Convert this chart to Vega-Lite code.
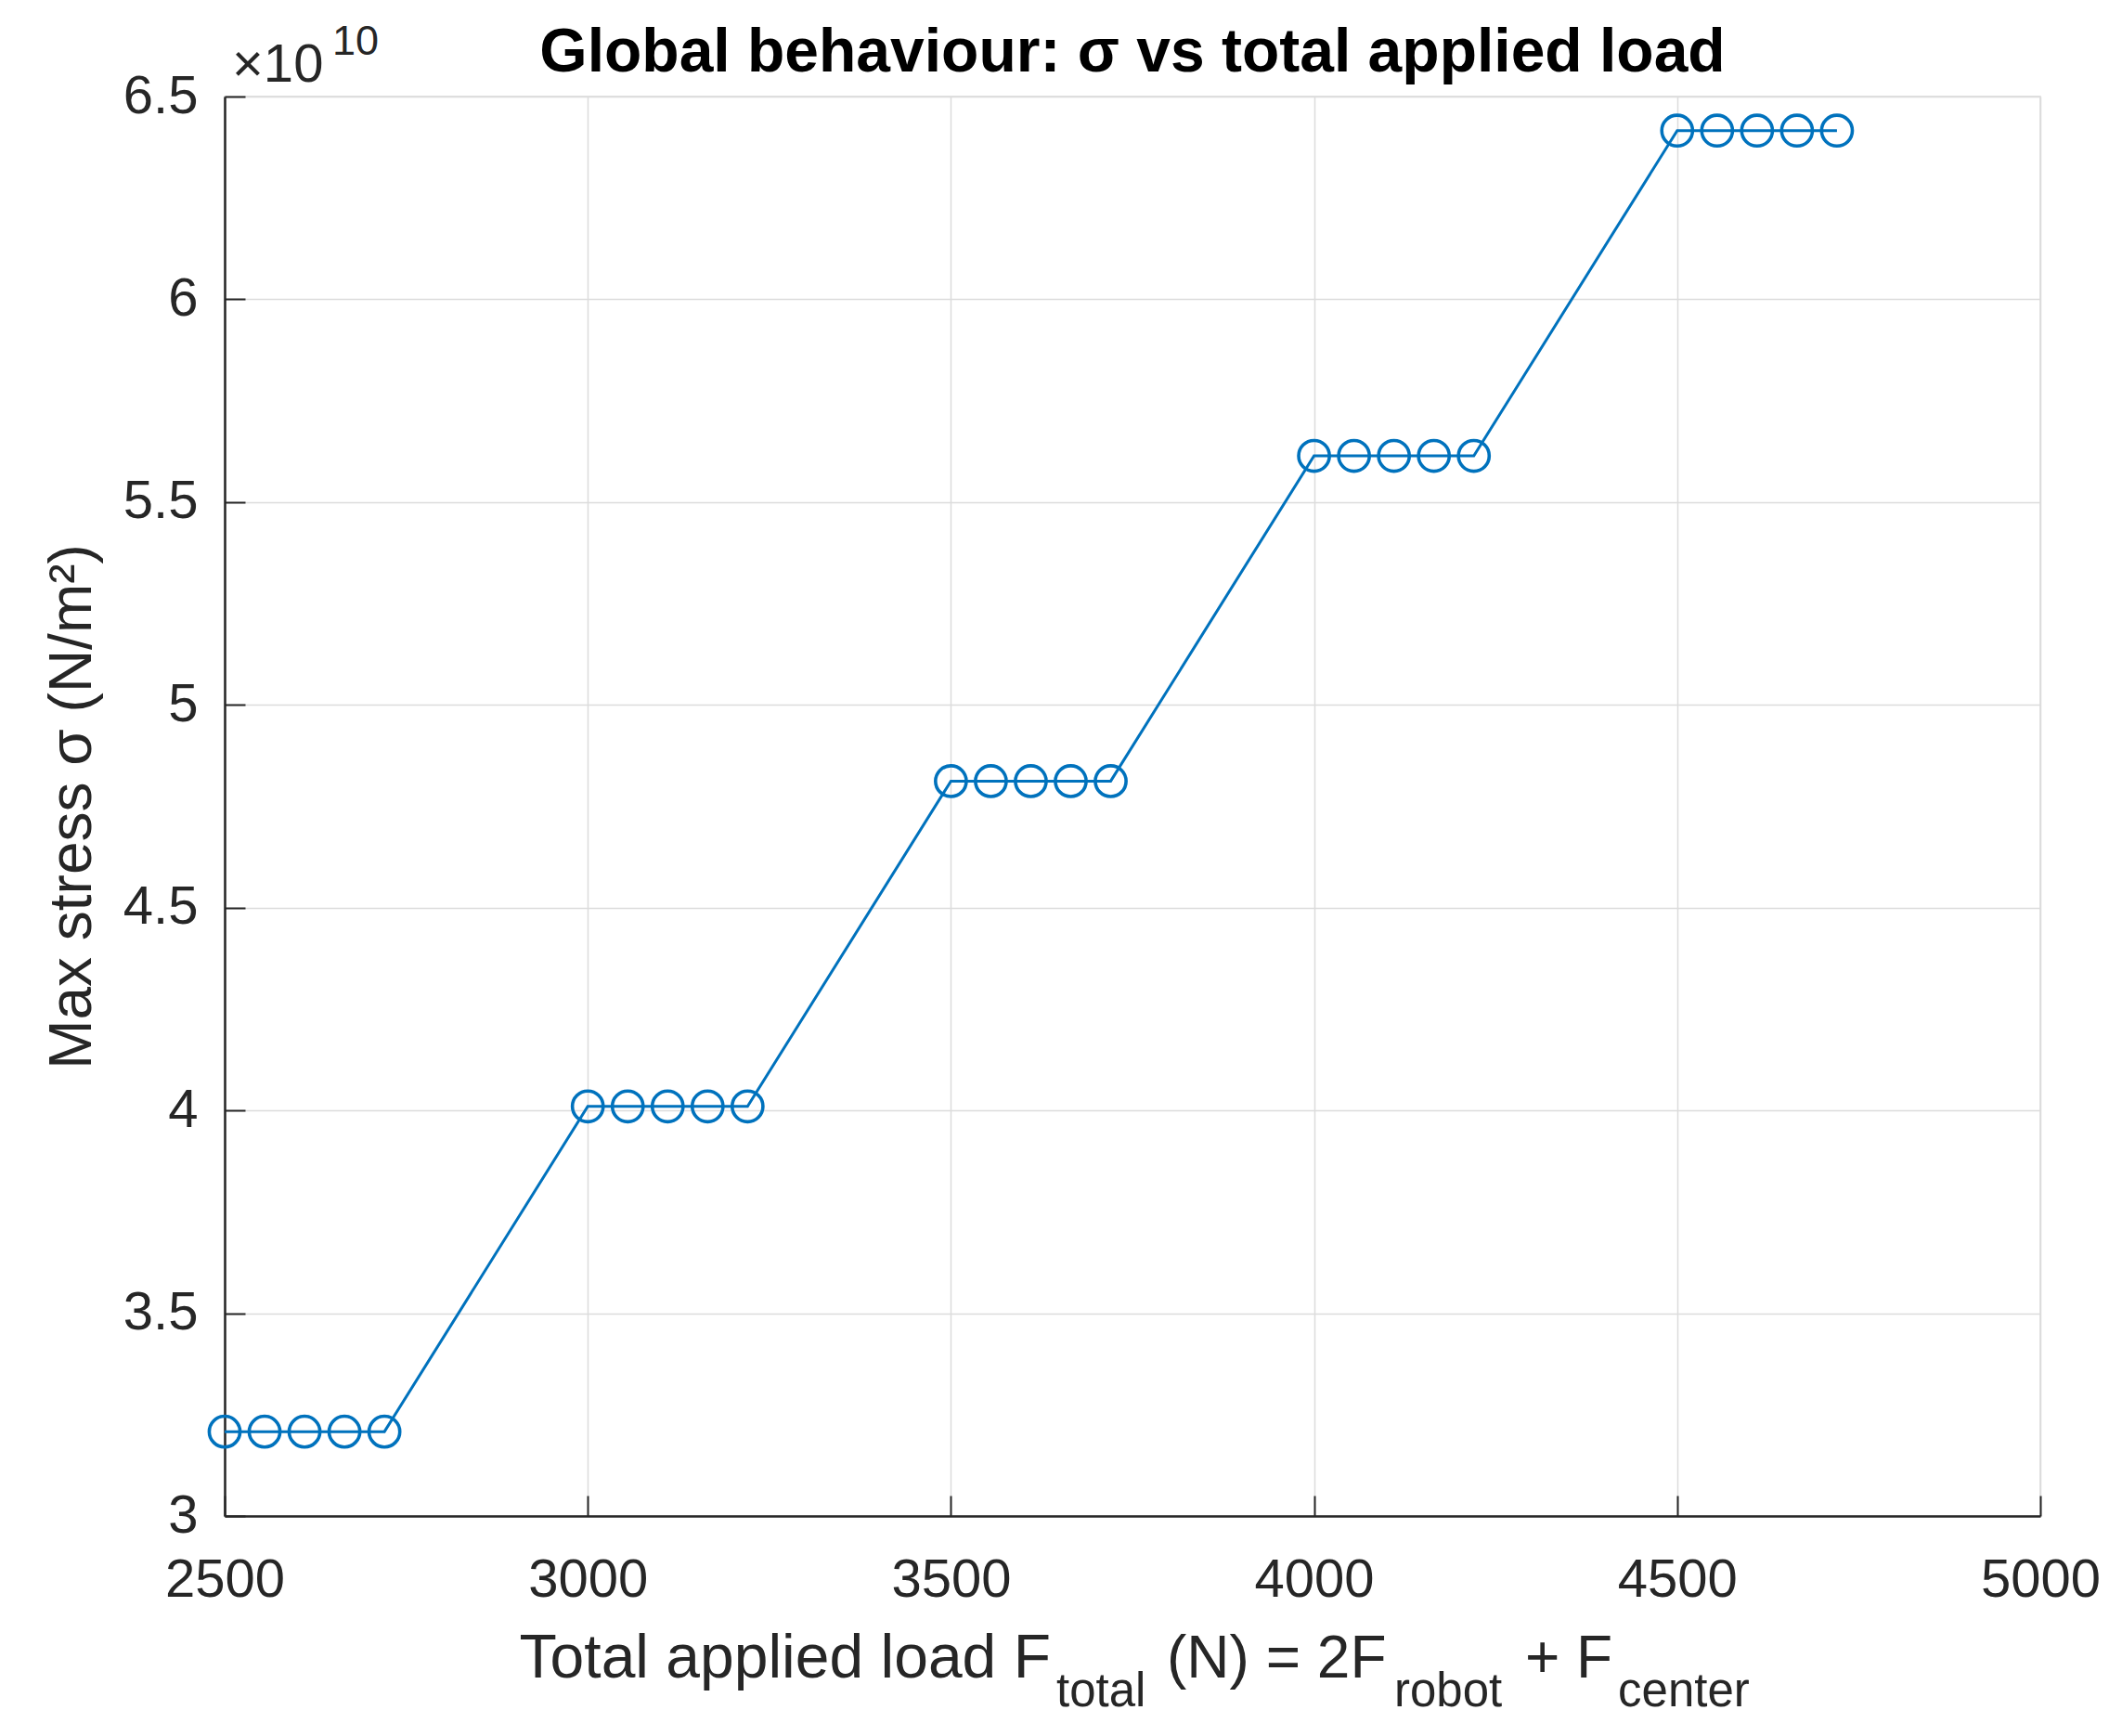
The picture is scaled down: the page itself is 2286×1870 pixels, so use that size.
{
  "$schema": "https://vega.github.io/schema/vega-lite/v6.json",
  "width": 1956,
  "height": 1529,
  "autosize": {"type": "none"},
  "padding": {"left": 242, "top": 104, "right": 88, "bottom": 237},
  "background": "white",
  "config": {
    "font": "Liberation Sans",
    "view": {"stroke": "#d9d9d9", "strokeWidth": 1.5}
  },
  "title": {
    "text": "Global behaviour: σ vs total applied load",
    "font": "Liberation Sans",
    "fontSize": 66,
    "fontWeight": "bold",
    "color": "#000000",
    "anchor": "middle",
    "frame": "group",
    "baseline": "alphabetic",
    "offset": -52,
    "dy": 68
  },
  "datasets": {
    "points": [
      {"load": 2500, "stress": 3.208},
      {"load": 2555, "stress": 3.208},
      {"load": 2610, "stress": 3.208},
      {"load": 2665, "stress": 3.208},
      {"load": 2720, "stress": 3.208},
      {"load": 3000, "stress": 4.01},
      {"load": 3055, "stress": 4.01},
      {"load": 3110, "stress": 4.01},
      {"load": 3165, "stress": 4.01},
      {"load": 3220, "stress": 4.01},
      {"load": 3500, "stress": 4.812},
      {"load": 3555, "stress": 4.812},
      {"load": 3610, "stress": 4.812},
      {"load": 3665, "stress": 4.812},
      {"load": 3720, "stress": 4.812},
      {"load": 4000, "stress": 5.614},
      {"load": 4055, "stress": 5.614},
      {"load": 4110, "stress": 5.614},
      {"load": 4165, "stress": 5.614},
      {"load": 4220, "stress": 5.614},
      {"load": 4500, "stress": 6.416},
      {"load": 4555, "stress": 6.416},
      {"load": 4610, "stress": 6.416},
      {"load": 4665, "stress": 6.416},
      {"load": 4720, "stress": 6.416}
    ]
  },
  "layer": [
    {
      "data": {"name": "points"},
      "mark": {"type": "line", "color": "#0072BD", "strokeWidth": 3},
      "encoding": {
        "x": {
          "field": "load",
          "type": "quantitative",
          "scale": {"domain": [2500, 5000], "nice": false, "zero": false},
          "axis": {
            "title": null,
            "values": [2500, 3000, 3500, 4000, 4500, 5000],
            "format": "d",
            "labelFontSize": 58,
            "labelColor": "#262626",
            "labelPadding": 62,
            "labelFlush": false,
            "labelOverlap": false,
            "tickSize": -22,
            "tickColor": "#262626",
            "tickWidth": 2,
            "domainColor": "#262626",
            "domainWidth": 2.5,
            "grid": true,
            "gridColor": "#dcdcdc",
            "gridWidth": 1.5
          }
        },
        "y": {
          "field": "stress",
          "type": "quantitative",
          "scale": {"domain": [3, 6.5], "nice": false, "zero": false},
          "axis": {
            "title": "Max stress σ (N/m²)",
            "titleFontSize": 64,
            "titleFontWeight": "normal",
            "titleColor": "#262626",
            "titleX": -145,
            "titleY": 764.5,
            "titleAngle": 270,
            "titleAlign": "center",
            "titleBaseline": "alphabetic",
            "values": [3, 3.5, 4, 4.5, 5, 5.5, 6, 6.5],
            "format": "~g",
            "labelFontSize": 58,
            "labelColor": "#262626",
            "labelPadding": 51,
            "labelOverlap": false,
            "tickSize": -22,
            "tickColor": "#262626",
            "tickWidth": 2,
            "domainColor": "#262626",
            "domainWidth": 2.5,
            "grid": true,
            "gridColor": "#dcdcdc",
            "gridWidth": 1.5
          }
        }
      }
    },
    {
      "data": {"name": "points"},
      "mark": {"type": "point", "shape": "circle", "filled": false, "size": 1100, "strokeWidth": 3.6, "color": "#0072BD", "opacity": 1},
      "encoding": {
        "x": {"field": "load", "type": "quantitative"},
        "y": {"field": "stress", "type": "quantitative"}
      }
    },
    {
      "data": {"values": [{}]},
      "mark": {"type": "text", "align": "left", "baseline": "alphabetic", "fontSize": 58, "color": "#262626", "dx": 8, "dy": -16},
      "encoding": {"x": {"datum": 2500}, "y": {"datum": 6.5}, "text": {"value": "×10"}}
    },
    {
      "data": {"values": [{}]},
      "mark": {"type": "text", "align": "left", "baseline": "alphabetic", "fontSize": 45, "color": "#262626", "dx": 116, "dy": -45},
      "encoding": {"x": {"datum": 2500}, "y": {"datum": 6.5}, "text": {"value": "10"}}
    },
    {
      "data": {"values": [{}]},
      "mark": {"type": "text", "align": "right", "baseline": "alphabetic", "fontSize": 66, "color": "#262626", "dy": 174},
      "encoding": {"x": {"datum": 3637.5}, "y": {"datum": 3}, "text": {"value": "Total applied load F"}}
    },
    {
      "data": {"values": [{}]},
      "mark": {"type": "text", "align": "left", "baseline": "alphabetic", "fontSize": 51, "color": "#262626", "dy": 205},
      "encoding": {"x": {"datum": 3645.2}, "y": {"datum": 3}, "text": {"value": "total"}}
    },
    {
      "data": {"values": [{}]},
      "mark": {"type": "text", "align": "left", "baseline": "alphabetic", "fontSize": 64, "color": "#262626", "dy": 174},
      "encoding": {"x": {"datum": 3797.3}, "y": {"datum": 3}, "text": {"value": "(N) = 2F"}}
    },
    {
      "data": {"values": [{}]},
      "mark": {"type": "text", "align": "left", "baseline": "alphabetic", "fontSize": 51, "color": "#262626", "dy": 205},
      "encoding": {"x": {"datum": 4110.4}, "y": {"datum": 3}, "text": {"value": "robot"}}
    },
    {
      "data": {"values": [{}]},
      "mark": {"type": "text", "align": "left", "baseline": "alphabetic", "fontSize": 64, "color": "#262626", "dy": 174},
      "encoding": {"x": {"datum": 4290.6}, "y": {"datum": 3}, "text": {"value": "+ F"}}
    },
    {
      "data": {"values": [{}]},
      "mark": {"type": "text", "align": "left", "baseline": "alphabetic", "fontSize": 51, "color": "#262626", "dy": 205},
      "encoding": {"x": {"datum": 4418.5}, "y": {"datum": 3}, "text": {"value": "center"}}
    }
  ]
}
